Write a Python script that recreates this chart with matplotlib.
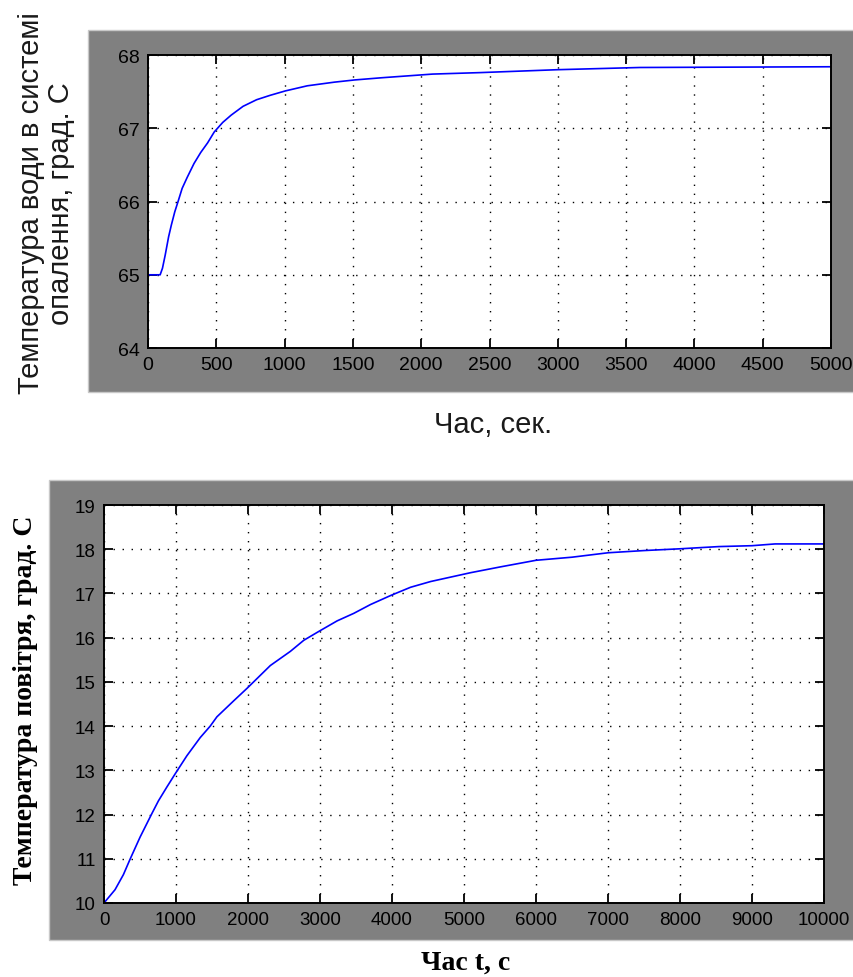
"""
water and air temperature curves
"""
import matplotlib
matplotlib.use('Agg')
import matplotlib.pyplot as plt
from matplotlib.patches import Rectangle

# top chart: water temperature in heating system
water_t = [0, 89, 106, 126, 151, 171, 196, 220, 250, 287, 337, 386, 436,
           485, 547, 609, 696, 795, 894, 1005, 1166, 1365, 1513, 1711, 1860,
           2083, 2429, 3000, 3600, 5000]
water_temp = [65.0, 65.0, 65.09, 65.27, 65.52, 65.68, 65.86, 66.0, 66.18,
              66.33, 66.52, 66.67, 66.80, 66.95, 67.08, 67.18, 67.30, 67.39,
              67.45, 67.51, 67.58, 67.63, 67.66, 67.69, 67.71, 67.74, 67.76,
              67.80, 67.83, 67.84]

# bottom chart: air temperature
air_t = [0, 153, 269, 362, 501, 664, 756, 872, 988, 1151, 1336, 1475, 1568,
         1800, 1990, 2310, 2588, 2774, 2982, 3238, 3469, 3702, 3990, 4258,
         4537, 4815, 5093, 5503, 6000, 6500, 7000, 7500, 8000, 8540, 9000,
         9320, 10000]
air_temp = [10.0, 10.30, 10.64, 10.99, 11.49, 12.02, 12.31, 12.62, 12.92,
            13.33, 13.74, 14.0, 14.21, 14.57, 14.86, 15.37, 15.69, 15.94,
            16.14, 16.38, 16.55, 16.75, 16.96, 17.14, 17.27, 17.37, 17.47,
            17.6, 17.75, 17.82, 17.92, 17.97, 18.01, 18.06, 18.08, 18.12,
            18.12]

water_xticks = list(range(0, 5001, 500))
water_yticks = [64, 65, 66, 67, 68]
air_xticks = list(range(0, 10001, 1000))
air_yticks = list(range(10, 20))

GRAY = '#808080'


def style_axes(ax, fontsize):
    ax.tick_params(direction='in', top=True, right=True, length=6.5,
                   width=1.3, colors='black', labelsize=fontsize, pad=6)
    for lbl in ax.get_xticklabels() + ax.get_yticklabels():
        lbl.set_fontfamily('Liberation Sans')
    for sp in ax.spines.values():
        sp.set_linewidth(1.4)
    ax.grid(True, color='black', linewidth=1.0, linestyle=(0, (1, 5.5)))
    ax.set_axisbelow(True)


def main():
    fig = plt.figure(figsize=(8.54, 9.78), dpi=100)
    fig.patch.set_facecolor('white')

    # gray panels behind each plot
    fig.add_artist(Rectangle((0.103, 0.598), 0.897, 0.370,
                             transform=fig.transFigure, facecolor=GRAY,
                             edgecolor='#c8c8c8', linewidth=1, zorder=0))
    fig.add_artist(Rectangle((0.0574, 0.0378), 0.9426, 0.4703,
                             transform=fig.transFigure, facecolor=GRAY,
                             edgecolor='#c8c8c8', linewidth=1, zorder=0))

    ax1 = fig.add_axes([0.1733, 0.6431, 0.7998, 0.2996])
    ax1.plot(water_t, water_temp, color='#0000FF', linewidth=1.2)
    ax1.set_xlim(0, 5000)
    ax1.set_ylim(64, 68)
    ax1.set_xticks(water_xticks)
    ax1.set_yticks(water_yticks)
    style_axes(ax1, 14)

    fig.text(0.054, 0.792, 'Температура води в системі\nопалення, град. С',
             rotation=90, ha='center', va='center', multialignment='center',
             fontsize=21, family='Liberation Sans', color='#1a1a1a',
             linespacing=1.1)
    fig.text(0.5773, 0.5654, 'Час, сек.', ha='center', va='center',
             fontsize=21, family='Liberation Sans', color='#1a1a1a')

    ax2 = fig.add_axes([0.1218, 0.0757, 0.8431, 0.4069])
    ax2.plot(air_t, air_temp, color='#0000FF', linewidth=1.2)
    ax2.set_xlim(0, 10000)
    ax2.set_ylim(10, 19)
    ax2.set_xticks(air_xticks)
    ax2.set_yticks(air_yticks)
    style_axes(ax2, 13.5)

    fig.text(0.0293, 0.2843, 'Температура повітря, град. С', rotation=90,
             ha='center', va='center', fontsize=20, fontweight='bold',
             family='Liberation Serif')
    fig.text(0.5457, 0.0153, 'Час t, с', ha='center', va='center',
             fontsize=20, fontweight='bold', family='Liberation Serif')

    fig.savefig('out.png', dpi=100)


if __name__ == "__main__":
    main()
